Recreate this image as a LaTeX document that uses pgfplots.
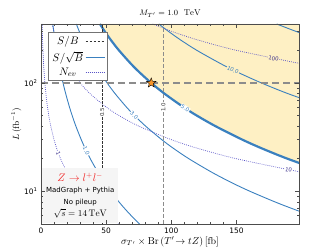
\documentclass[border=0pt]{standalone}
\usepackage{fontspec}
\usepackage{pgfplots}
\pgfplotsset{compat=1.18}
\newfontfamily\dejavu{DejaVu Sans}
\definecolor{cblue}{RGB}{58,128,191}
\definecolor{cpurp}{RGB}{90,85,200}
\definecolor{cindigo}{RGB}{60,50,140}
\definecolor{cfill}{RGB}{254,240,196}
\definecolor{cgray}{RGB}{140,140,140}
\definecolor{corange}{RGB}{248,150,40}
\definecolor{cred}{RGB}{240,40,40}
\pgfdeclareplotmark{fstar}{%
 \pgfpathmoveto{\pgfpointpolar{90}{\pgfplotmarksize}}%
 \pgfpathlineto{\pgfpointpolar{126}{0.42\pgfplotmarksize}}%
 \pgfpathlineto{\pgfpointpolar{162}{\pgfplotmarksize}}%
 \pgfpathlineto{\pgfpointpolar{198}{0.42\pgfplotmarksize}}%
 \pgfpathlineto{\pgfpointpolar{234}{\pgfplotmarksize}}%
 \pgfpathlineto{\pgfpointpolar{270}{0.42\pgfplotmarksize}}%
 \pgfpathlineto{\pgfpointpolar{306}{\pgfplotmarksize}}%
 \pgfpathlineto{\pgfpointpolar{342}{0.42\pgfplotmarksize}}%
 \pgfpathlineto{\pgfpointpolar{18}{\pgfplotmarksize}}%
 \pgfpathlineto{\pgfpointpolar{54}{0.42\pgfplotmarksize}}%
 \pgfpathclose\pgfusepathqfillstroke}
\begin{document}
\begin{tikzpicture}
\useasboundingbox (-41bp,-25bp) rectangle (291bp,224bp);
\begin{axis}[at={(0,0)}, anchor=south west, scale only axis,
 width=258bp, height=200bp,
 xmin=0, xmax=198, ymin=5, ymax=350, ymode=log,
 xtick={0,50,100,150}, xticklabels={0,50,100,150}, minor x tick num=4,
 ytick={10,100}, yticklabels={10\textsuperscript{1},10\textsuperscript{2}},
 minor ytick={5,6,7,8,9,20,30,40,50,60,70,80,90,200,300},
 tick align=inside, major tick length=4bp, minor tick length=2.5bp,
 ticklabel style={font=\dejavu\fontsize{7.5}{9}\selectfont},
 axis line style={black!70, line width=0.9pt},
 every tick/.style={black!70, line width=0.5pt},
 axis on top,
 xlabel={$\sigma_{T'} \times \mathrm{Br}\,(T'\!\to tZ)\,[\mathrm{fb}]$},
 xlabel style={font=\fontsize{10}{12}\selectfont, yshift=3bp},
 ylabel={$L\,(\mathrm{fb}^{-1})$},
 ylabel style={font=\fontsize{9}{11}\selectfont, yshift=-4bp},
 title={$M_{T'} = 1.0\ \ \mathrm{TeV}$},
 title style={font=\fontsize{8.5}{10}\selectfont, yshift=-3bp},
 legend plot pos=right,
 legend style={at={(0.027,0.96)}, anchor=north west, draw=black!55, line width=1.1pt,
   fill=white, font=\fontsize{11}{13}\selectfont, cells={anchor=center},
   row sep=1pt, inner sep=2pt},
 legend image code/.code={\draw[#1] (0cm,0cm) -- (0.7cm,0cm);},
]
\addlegendimage{black!80, line width=0.6pt, dash pattern=on 2.5bp off 1.5bp}
\addlegendentry{$S/B$}
\addlegendimage{cblue, line width=0.9pt}
\addlegendentry{$S/\sqrt{B}$}
\addlegendimage{cpurp, line width=0.7pt, dash pattern=on 0.8bp off 1.2bp}
\addlegendentry{$N_{ev}$}

% 5 sigma region
\addplot[forget plot, fill=cfill, draw=none] coordinates {
(45.22,350) (48.84,300) (53.51,250) (59.82,200) (69.08,150) (75.67,125) (84.6,100)
(94.58,80) (101.1,70) (109.2,60) (119.6,50) (133.8,40) (154.5,30) (169.2,25) (189.2,20)
(218.4,15) (250,15) (250,350)} -- cycle;

% S/sqrt(B) contours
\addplot[forget plot, cblue, line width=0.9pt, smooth] coordinates {
(75.67,5) (69.08,6) (63.95,7) (59.82,8) (53.51,10) (48.84,12) (43.69,15) (37.83,20)
(33.84,25) (30.89,30) (26.75,40) (23.93,50) (21.84,60) (18.92,80) (16.92,100)
(15.13,125) (13.82,150) (11.96,200) (10.70,250) (9.77,300) (9.04,350)};
\addplot[forget plot, cblue, line width=0.9pt, smooth] coordinates {
(227.0,5) (207.2,6) (191.9,7) (179.5,8) (160.5,10) (146.5,12) (131.1,15) (113.5,20)
(101.5,25) (92.68,30) (80.26,40) (71.79,50) (65.53,60) (56.75,80) (50.76,100)
(45.40,125) (41.45,150) (35.89,200) (32.10,250) (29.31,300) (27.13,350)};
\addplot[forget plot, cblue, line width=2.2pt, smooth] coordinates {
(218.4,15) (189.2,20) (169.2,25) (154.5,30) (133.8,40) (119.6,50) (109.2,60)
(94.58,80) (84.6,100) (75.67,125) (69.08,150) (59.82,200) (53.51,250) (48.84,300) (45.22,350)};
\addplot[forget plot, cblue, line width=0.9pt, smooth] coordinates {
(218.4,60) (189.2,80) (169.2,100) (151.3,125) (138.2,150) (119.6,200) (107.0,250)
(97.69,300) (90.44,350)};
\addplot[forget plot, cblue, line width=0.9pt, smooth] coordinates {
(214.0,250) (195.4,300) (180.9,350)};

% N_ev contours
\addplot[forget plot, cpurp, line width=0.7pt, dash pattern=on 0.8bp off 1.2bp, smooth] coordinates {
(60,5) (50,6) (42.86,7) (37.5,8) (30,10) (25,12) (20,15) (15,20) (12,25) (10,30)
(7.5,40) (6,50) (5,60) (3.75,80) (3,100) (2.4,125) (2,150) (1.5,200) (1.2,250) (1,300) (0.857,350)};
\addplot[forget plot, cpurp, line width=0.7pt, dash pattern=on 0.8bp off 1.2bp, smooth] coordinates {
(200,15) (150,20) (120,25) (100,30) (75,40) (60,50) (50,60) (37.5,80) (30,100)
(24,125) (20,150) (15,200) (12,250) (10,300) (8.57,350)};
\addplot[forget plot, cpurp, line width=0.7pt, dash pattern=on 0.8bp off 1.2bp, smooth] coordinates {
(200,150) (150,200) (120,250) (100,300) (85.71,350)};

% S/B lines and benchmark
\addplot[forget plot, black!80, line width=0.6pt, dash pattern=on 2.5bp off 1.5bp] coordinates {(47,5) (47,350)};
\addplot[forget plot, cgray, line width=1.2pt, dash pattern=on 3.5bp off 2.5bp] coordinates {(94,5) (94,350)};
\addplot[forget plot, cgray, line width=1.2pt, dash pattern=on 7bp off 4bp] coordinates {(0,100) (198,100)};
\addplot[forget plot, only marks, mark=fstar, mark size=5bp, mark options={fill=corange, draw=black, line width=0.4pt}] coordinates {(84.6,100)};

% contour labels
\begin{scope}[every node/.style={font=\dejavu\fontsize{5.5}{6}\selectfont, inner sep=0.6pt}]
\node[fill=white, text=cblue, rotate=-64] at (axis cs:34.8,23.6) {1.0};
\node[fill=white, text=cblue, rotate=-45] at (axis cs:71.5,50.4) {3.0};
\node[fill=white, text=cblue, rotate=-33] at (axis cs:110.6,58.5) {5.0};
\node[fill=cfill, text=cblue, rotate=-26] at (axis cs:147.3,132) {10.0};
\node[fill=white, text=cindigo, rotate=-70] at (axis cs:13.3,22.6) {1};
\node[fill=white, text=cindigo, rotate=-11] at (axis cs:190,15.8) {10};
\node[fill=cfill, text=cindigo, rotate=-11] at (axis cs:178.5,168) {100};
\node[fill=white, text=black!80, rotate=90] at (axis cs:47,53.7) {0.5};
\node[fill=white, text=black!80, rotate=90] at (axis cs:94,59.8) {1.0};
\end{scope}

\node[anchor=south west, fill=white!96!black, inner sep=2pt, align=center,
  minimum width=76bp, minimum height=55bp] at (rel axis cs:0.004,0.004)
 {{\color{cred}\fontsize{10.5}{12}\selectfont $Z\to l^+l^-$}\\[-1pt]
  {\dejavu\fontsize{7}{11}\selectfont MadGraph + Pythia}\\
  {\dejavu\fontsize{7}{11}\selectfont No pileup}\\
  {\fontsize{9.5}{11}\selectfont $\sqrt{s} = 14\,\mathrm{TeV}$}};
\end{axis}
\end{tikzpicture}
\end{document}
